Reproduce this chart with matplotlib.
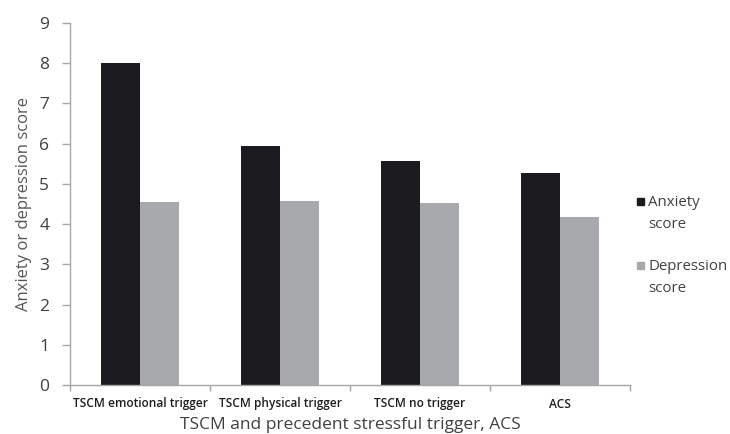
import numpy as np
import matplotlib
matplotlib.use("Agg")
import matplotlib.pyplot as plt
from matplotlib.patches import Rectangle

plt.rcParams['font.family'] = ['Open Sans', 'DejaVu Sans']

# Dane
categories = ['TSCM emotional trigger', 'TSCM physical trigger', 'TSCM no trigger', 'ACS']
anxiety = [8.0, 5.94, 5.58, 5.26]
depression = [4.54, 4.57, 4.52, 4.18]
series_names = [('Anxiety', 'score'), ('Depression', 'score')]

black = '#1b1b1f'
grey = '#a7a9ac'
axis_col = '#a6a6a6'
text_col = '#404040'

W, H = 730, 434
fig = plt.figure(figsize=(W / 100, H / 100), dpi=100)
ax = fig.add_axes([70 / W, 49 / H, 560 / W, 362 / H])

x = np.arange(len(categories))
w = 0.282
ax.bar(x - w / 2, anxiety, w, color=black)
ax.bar(x + w / 2, depression, w, color=grey)

ax.set_xlim(-0.5, len(categories) - 0.5)
ax.set_ylim(0, 9)
ax.set_yticks(range(10))

# etykiety kategorii w środku, kreski na granicach
ax.set_xticks(x)
ax.set_xticklabels(categories, fontsize=8.6, color='#1e1e1e', fontweight='semibold')
ax.tick_params(axis='x', length=0, pad=9)
ax.set_xticks(np.arange(len(categories) + 1) - 0.5, minor=True)
ax.tick_params(axis='x', which='minor', length=4, color=axis_col, width=1)
ax.tick_params(axis='y', length=6, color=axis_col, width=1, labelsize=12.5,
               labelcolor=text_col, pad=9)

for s in ['top', 'right']:
    ax.spines[s].set_visible(False)
for s in ['left', 'bottom']:
    ax.spines[s].set_color(axis_col)
    ax.spines[s].set_linewidth(1)

ax.set_ylabel('Anxiety or depression score', fontsize=12, color='#555555', labelpad=5)
ax.set_xlabel('TSCM and precedent stressful trigger, ACS', fontsize=12.5, color=text_col,
              labelpad=5)

# legenda rysowana ręcznie: kwadracik przy pierwszej linii opisu
legend_rows = [(198, black), (262, grey)]
for (top, col), (l1, l2) in zip(legend_rows, series_names):
    fig.patches.append(Rectangle((637 / W, 1 - (top + 7) / H), 7 / W, 7 / H,
                                 transform=fig.transFigure, color=col))
    fig.text(648 / W, 1 - (top + 8) / H, l1, fontsize=10.8, color=text_col, va='baseline')
    fig.text(648 / W, 1 - (top + 30) / H, l2, fontsize=10.8, color=text_col, va='baseline')

fig.savefig('out.png', dpi=100)
